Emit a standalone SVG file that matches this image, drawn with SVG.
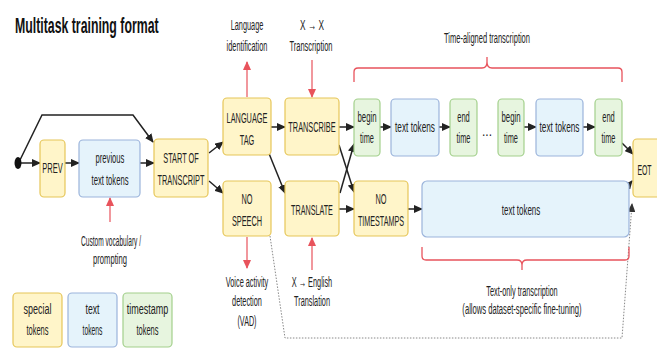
<svg xmlns="http://www.w3.org/2000/svg" width="657" height="349" viewBox="0 0 657 349">
<defs>
<style>
.t{font-family:"Liberation Sans",Arial,sans-serif;font-size:15px;fill:#222;text-anchor:middle}
.ttl{font-family:"Liberation Sans",Arial,sans-serif;font-size:22px;font-weight:bold;fill:#111}
.y{fill:#fff5c9;stroke:#e6c659;stroke-width:1.2}
.b{fill:#e5f3fb;stroke:#9bb4db;stroke-width:1.2}
.g{fill:#e7f5df;stroke:#a3d08c;stroke-width:1.2}
.c{fill:none;stroke:#222;stroke-width:1.5;marker-end:url(#ab)}
.r{fill:none;stroke:#e8535c;stroke-width:1.2;marker-end:url(#ar)}
.br{fill:none;stroke:#e8535c;stroke-width:1.3}
.d{fill:none;stroke:#888;stroke-width:1;stroke-dasharray:1.5 1.5;marker-end:url(#ag)}
</style>
<marker id="ab" markerUnits="userSpaceOnUse" markerWidth="9" markerHeight="8" refX="8" refY="4" orient="auto"><path d="M0,0 L9,4 L0,8 Z" fill="#222"/></marker>
<marker id="ar" markerUnits="userSpaceOnUse" markerWidth="9" markerHeight="8" refX="8" refY="4" orient="auto"><path d="M0,0 L9,4 L0,8 Z" fill="#e8535c"/></marker>
<marker id="ag" markerUnits="userSpaceOnUse" markerWidth="9" markerHeight="8" refX="8" refY="4" orient="auto"><path d="M0,0 L9,4 L0,8 Z" fill="#333"/></marker>
</defs>
<rect width="657" height="349" fill="#fff"/>
<text class="ttl" transform="translate(15,33) scale(0.56,1)">Multitask training format</text>

<g id="connectors">
<path class="c" d="M20,160 L42,115 L133,115 L153,142"/>
<path class="c" d="M21,163 L40,163"/>
<path class="c" d="M65,163 L79,163"/>
<path class="c" d="M140,163 L154,163"/>
<path class="c" d="M209,153 L223,142"/>
<path class="c" d="M209,181 L223,193"/>
<path class="c" d="M271,127 L285,127"/>
<path class="c" d="M268,151 L285,193"/>
<path class="c" d="M339,127 L354,127"/>
<path class="c" d="M339,145 L354,192"/>
<path class="c" d="M340,193 L354,144"/>
<path class="c" d="M339,209 L354,209"/>
<path class="c" d="M408,209 L422,209"/>
<path class="c" d="M380,127 L391,127"/>
<path class="c" d="M439,127 L450,127"/>
<path class="c" d="M524,127 L536,127"/>
<path class="c" d="M583,127 L595,127"/>
<path class="c" d="M622,143 L633,154"/>
<path class="c" d="M623,192 L632,181"/>
<path class="d" d="M270,236 L285,338 L622,338 L632,204"/>
<path class="r" d="M110,222 L110,198"/>
<path class="r" d="M247,97 L247,62"/>
<path class="r" d="M312,60 L312,97"/>
<path class="r" d="M247,237 L247,268"/>
<path class="r" d="M312,270 L312,238"/>
<path class="br" d="M354,82 V72 Q354,68 358,68 H482 Q487,68 487,62 V57 M487,62 Q487,68 492,68 H618 Q622,68 622,72 V82"/>
<path class="br" d="M422,247 V256 Q422,260 426,260 H517 Q522,260 522,265 V270 M522,265 Q522,260 527,260 H625 Q629,260 629,256 V247"/>
</g>

<g id="start"><ellipse cx="18" cy="163" rx="3.5" ry="6" fill="#111"/></g>
<g id="prev"><rect class="y" x="40" y="140" width="25" height="57" rx="4"/><text class="t" transform="translate(52.5,173) scale(0.5,1)">PREV</text></g>
<g id="prev-text"><rect class="b" x="79" y="140" width="61" height="57" rx="4"/><text class="t" transform="translate(110,163) scale(0.51,1)">previous</text><text class="t" transform="translate(110,185) scale(0.51,1)">text tokens</text></g>
<g id="sot"><rect class="y" x="154" y="139" width="54" height="58" rx="4"/><text class="t" transform="translate(181,163) scale(0.49,1)">START OF</text><text class="t" transform="translate(181,185) scale(0.49,1)">TRANSCRIPT</text></g>
<g id="lang"><rect class="y" x="223" y="98" width="48" height="57" rx="4"/><text class="t" transform="translate(247,123) scale(0.49,1)">LANGUAGE</text><text class="t" transform="translate(247,145) scale(0.49,1)">TAG</text></g>
<g id="nospeech"><rect class="y" x="223" y="181" width="48" height="55" rx="4"/><text class="t" transform="translate(247,204) scale(0.49,1)">NO</text><text class="t" transform="translate(247,226) scale(0.49,1)">SPEECH</text></g>
<g id="transcribe"><rect class="y" x="285" y="98" width="54" height="57" rx="4"/><text class="t" transform="translate(312,132) scale(0.49,1)">TRANSCRIBE</text></g>
<g id="translate"><rect class="y" x="285" y="181" width="54" height="55" rx="4"/><text class="t" transform="translate(312,215) scale(0.48,1)">TRANSLATE</text></g>
<g id="notimestamps"><rect class="y" x="354" y="181" width="54" height="55" rx="4"/><text class="t" transform="translate(381,204) scale(0.49,1)">NO</text><text class="t" transform="translate(381,226) scale(0.48,1)">TIMESTAMPS</text></g>
<g id="begin1"><rect class="g" x="354" y="99" width="26" height="57" rx="4"/><text class="t" transform="translate(367,122) scale(0.52,1)">begin</text><text class="t" transform="translate(367,143) scale(0.49,1)">time</text></g>
<g id="text1"><rect class="b" x="391" y="99" width="48" height="57" rx="4"/><text class="t" transform="translate(415,132) scale(0.55,1)">text tokens</text></g>
<g id="end1"><rect class="g" x="450" y="99" width="27" height="57" rx="4"/><text class="t" transform="translate(463.5,122) scale(0.5,1)">end</text><text class="t" transform="translate(463.5,143) scale(0.49,1)">time</text></g>
<g id="ellipsis"><text class="t" transform="translate(487,136) scale(0.8,1)">...</text></g>
<g id="begin2"><rect class="g" x="498" y="99" width="26" height="57" rx="4"/><text class="t" transform="translate(511,122) scale(0.52,1)">begin</text><text class="t" transform="translate(511,143) scale(0.49,1)">time</text></g>
<g id="text2"><rect class="b" x="536" y="99" width="47" height="57" rx="4"/><text class="t" transform="translate(559.5,132) scale(0.55,1)">text tokens</text></g>
<g id="end2"><rect class="g" x="595" y="99" width="27" height="57" rx="4"/><text class="t" transform="translate(608.5,122) scale(0.5,1)">end</text><text class="t" transform="translate(608.5,143) scale(0.49,1)">time</text></g>
<g id="textbig"><rect class="b" x="422" y="181" width="207" height="56" rx="5"/><text class="t" transform="translate(521,215) scale(0.53,1)">text tokens</text></g>
<g id="eot"><rect class="y" x="633" y="139" width="30" height="58" rx="4"/><text class="t" transform="translate(644.5,175) scale(0.46,1)">EOT</text></g>

<g id="labels">
<text class="t" transform="translate(247,30) scale(0.49,1)">Language</text>
<text class="t" transform="translate(247,51) scale(0.49,1)">identification</text>
<text class="t" transform="translate(312,30) scale(0.55,1)">X → X</text>
<text class="t" transform="translate(311,51) scale(0.5,1)">Transcription</text>
<text class="t" transform="translate(487,43) scale(0.5,1)">Time-aligned transcription</text>
<text class="t" transform="translate(111,246) scale(0.44,1)">Custom vocabulary /</text>
<text class="t" transform="translate(110,264) scale(0.51,1)">prompting</text>
<text class="t" transform="translate(247,287) scale(0.49,1)">Voice activity</text>
<text class="t" transform="translate(247,306) scale(0.49,1)">detection</text>
<text class="t" transform="translate(247,326) scale(0.48,1)">(VAD)</text>
<text class="t" transform="translate(312,287) scale(0.49,1)">X → English</text>
<text class="t" transform="translate(312,306) scale(0.49,1)">Translation</text>
<text class="t" transform="translate(522,296) scale(0.49,1)">Text-only transcription</text>
<text class="t" transform="translate(522,314) scale(0.51,1)">(allows dataset-specific fine-tuning)</text>
</g>

<g id="legend-special"><rect class="y" x="13" y="293" width="49" height="54" rx="4"/><text class="t" transform="translate(37.5,314) scale(0.6,1)">special</text><text class="t" transform="translate(37.5,335) scale(0.5,1)">tokens</text></g>
<g id="legend-text"><rect class="b" x="68" y="293" width="49" height="54" rx="4"/><text class="t" transform="translate(92.5,314) scale(0.58,1)">text</text><text class="t" transform="translate(92.5,335) scale(0.45,1)">tokens</text></g>
<g id="legend-timestamp"><rect class="g" x="123" y="293" width="49" height="54" rx="4"/><text class="t" transform="translate(147.5,314) scale(0.6,1)">timestamp</text><text class="t" transform="translate(147.5,335) scale(0.5,1)">tokens</text></g>
</svg>
